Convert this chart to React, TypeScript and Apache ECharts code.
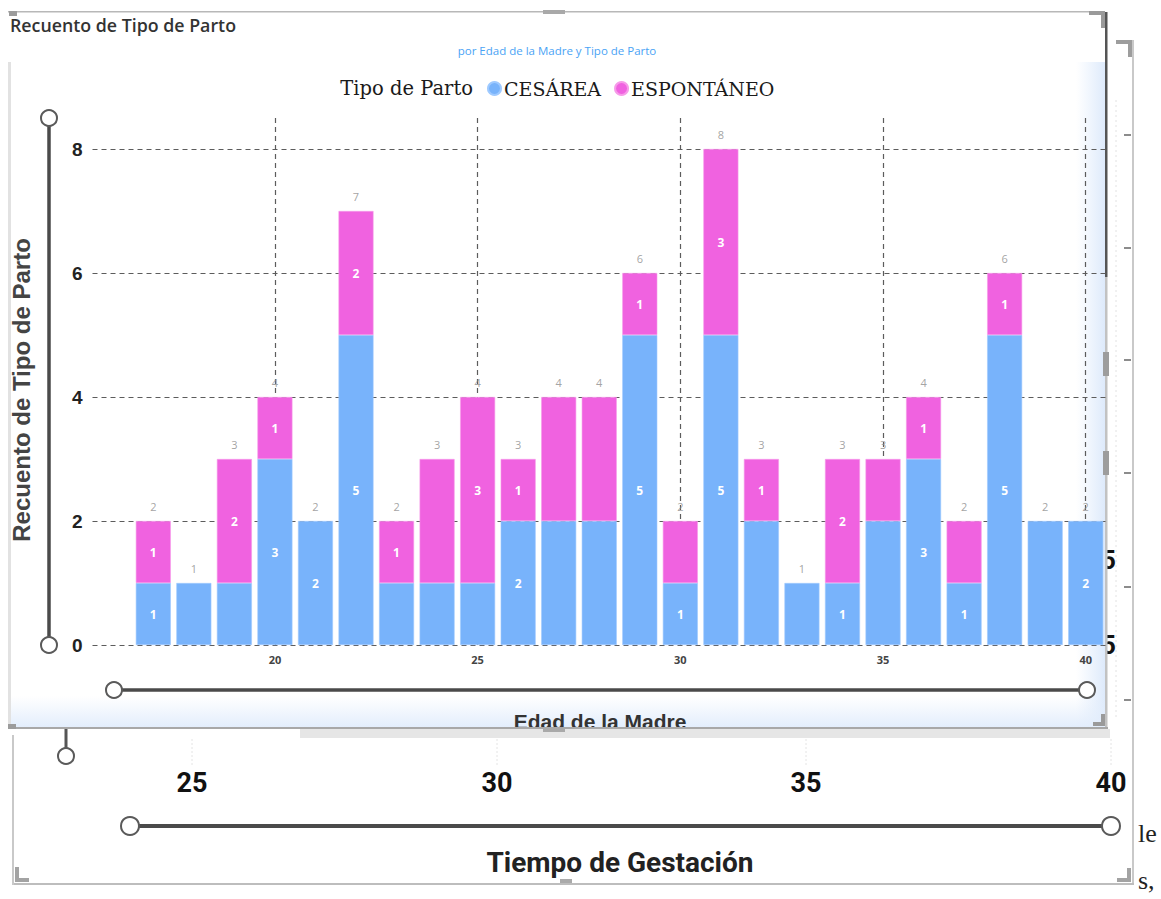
import React, { useEffect, useRef } from "react";
import * as echarts from "echarts";

// ---- data ----
const axisCategories = ["16", "17", "18", "19", "20", "21", "22", "23", "24", "25", "26", "27", "28", "29", "30", "31", "32", "33", "34", "35", "36", "37", "38", "39", "40"];
const ages = ["17", "18", "19", "20", "21", "22", "23", "24", "25", "26", "27", "28", "29", "30", "31", "32", "33", "34", "35", "36", "37", "38", "39", "40"];
const cesarea = [1, 1, 1, 3, 2, 5, 1, 1, 1, 2, 2, 2, 5, 1, 5, 2, 1, 1, 2, 3, 1, 5, 2, 2];
const espontaneo = [1, 0, 2, 1, 0, 2, 1, 2, 3, 1, 2, 2, 1, 1, 3, 1, 0, 2, 1, 1, 1, 1, 0, 0];
const seriesNames = ["CESÁREA", "ESPONTÁNEO"];
const xTickLabels = ["20", "25", "30", "35", "40"];
const yTickValues = [0, 2, 4, 6, 8];
// segments whose inner label is hidden in the original (by age)
const cesareaLabelHidden = ["18", "19", "23", "24", "25", "27", "28", "32", "33", "35", "39"];
const espontaneoLabelHidden = ["24", "27", "28", "30", "35", "37"];
// background visual (Tiempo de Gestación) tick labels
const gestacionTicks = ["25", "30", "35", "40"];

const BLUE = "#78b3fb";
const PINK = "#f062e0";

function buildOption() {
  const totals = ages.map((a, i) => cesarea[i] + espontaneo[i]);
  const innerLabel = {
    show: true,
    position: "inside",
    color: "#ffffff",
    fontFamily: "Open Sans",
    fontWeight: 700,
    fontSize: 12,
  };
  const cesData = ages.map((a, i) => ({
    value: [a, cesarea[i] > 0 ? cesarea[i] : "-"],
    label: { show: cesarea[i] > 0 && !cesareaLabelHidden.includes(a) },
  }));
  const espData = ages.map((a, i) => ({
    value: [a, espontaneo[i] > 0 ? espontaneo[i] : "-"],
    label: { show: espontaneo[i] > 0 && !espontaneoLabelHidden.includes(a) },
  }));

  const gestX = [192, 497, 806, 1111];

  const behind: any[] = [
    { type: "rect", shape: { x: 1132, y: 40, width: 2, height: 845 }, style: { fill: "#c9c9c9" } },
    { type: "polyline", shape: { points: [[1116, 42], [1130, 42], [1130, 57]] }, style: { stroke: "#9d9d9d", lineWidth: 4, fill: null } },
    { type: "rect", shape: { x: 14, y: 883, width: 1120, height: 2 }, style: { fill: "#bdbdbd" } },
    { type: "rect", shape: { x: 12, y: 733, width: 2, height: 152 }, style: { fill: "#c9c9c9" } },
    { type: "polyline", shape: { points: [[17, 867], [17, 880], [29, 880]] }, style: { stroke: "#a3a3a3", lineWidth: 4, fill: null } },
    { type: "polyline", shape: { points: [[1117, 880], [1129, 880], [1129, 868]] }, style: { stroke: "#a3a3a3", lineWidth: 4, fill: null } },
    { type: "rect", shape: { x: 560, y: 879, width: 12, height: 4 }, style: { fill: "#aaaaaa" } },
    { type: "line", shape: { x1: 1116, y1: 100, x2: 1116, y2: 720 }, style: { stroke: "#e2e2e2", lineWidth: 1, lineDash: [2, 3] } },
    ...[135, 248, 360, 473, 587, 700].map((y) => ({
      type: "line",
      shape: { x1: 1124, y1: y, x2: 1131, y2: y },
      style: { stroke: "#666", lineWidth: 1.5 },
    })),
    { type: "text", x: 1101, y: 560, style: { text: "5", font: "bold 26px Roboto", fill: "#111", textVerticalAlign: "middle" } },
    { type: "text", x: 1101, y: 645, style: { text: "5", font: "bold 26px Roboto", fill: "#111", textVerticalAlign: "middle" } },
    { type: "text", x: 1138, y: 833, style: { text: "le", font: "26px 'Liberation Serif'", fill: "#222", textVerticalAlign: "middle" } },
    { type: "text", x: 1138, y: 880, style: { text: "s,", font: "26px 'Liberation Serif'", fill: "#222", textVerticalAlign: "middle" } },
  ].map((e) => ({ ...e, z: 0 }));

  const panel: any[] = [
    { type: "rect", shape: { x: 8, y: 12, width: 1099, height: 716 }, style: { fill: "#ffffff" } },
    {
      type: "rect",
      shape: { x: 1076, y: 62, width: 30, height: 666 },
      style: {
        fill: new echarts.graphic.LinearGradient(0, 0, 1, 0, [
          { offset: 0, color: "rgba(224,236,252,0)" },
          { offset: 1, color: "#dce9fb" },
        ]),
      },
    },
    {
      type: "rect",
      shape: { x: 10, y: 696, width: 1096, height: 32 },
      style: {
        fill: new echarts.graphic.LinearGradient(0, 0, 0, 1, [
          { offset: 0, color: "rgba(228,238,252,0)" },
          { offset: 1, color: "#e2edfc" },
        ]),
      },
    },
    { type: "rect", shape: { x: 8, y: 62, width: 3, height: 666 }, style: { fill: "#e2e2e2" } },
    { type: "rect", shape: { x: 8, y: 11, width: 1097, height: 1.5 }, style: { fill: "#b8b8b8" } },
    { type: "rect", shape: { x: 9, y: 11, width: 8, height: 5 }, style: { fill: "#9c9c9c" } },
    { type: "rect", shape: { x: 543, y: 10, width: 22, height: 4 }, style: { fill: "#a9a9a9" } },
    { type: "polyline", shape: { points: [[1089, 13], [1103, 13], [1103, 28]] }, style: { stroke: "#9a9a9a", lineWidth: 4, fill: null } },
    { type: "rect", shape: { x: 1105, y: 12, width: 2.5, height: 265 }, style: { fill: "#555555" } },
    { type: "rect", shape: { x: 1105, y: 277, width: 2.5, height: 451 }, style: { fill: "#c2c2c2" } },
    { type: "rect", shape: { x: 1103, y: 352, width: 6, height: 24 }, style: { fill: "#9d9d9d" } },
    { type: "rect", shape: { x: 1103, y: 451, width: 6, height: 24 }, style: { fill: "#9d9d9d" } },
  ].map((e) => ({ ...e, z: 0 }));

  const slider = (pts: number[][], r: number, w: number) => [
    { type: "line", shape: { x1: pts[0][0], y1: pts[0][1], x2: pts[1][0], y2: pts[1][1] }, style: { stroke: "#4a4a4a", lineWidth: w } },
    { type: "circle", shape: { cx: pts[0][0], cy: pts[0][1], r }, style: { fill: "#fff", stroke: "#5a5a5a", lineWidth: 2 } },
    { type: "circle", shape: { cx: pts[1][0], cy: pts[1][1], r }, style: { fill: "#fff", stroke: "#5a5a5a", lineWidth: 2 } },
  ];

  const front: any[] = [
    ...slider([[49, 118], [49, 645]], 8, 3.5),
    ...slider([[114, 690], [1087, 690]], 8, 3.5),
    { type: "text", x: 10, y: 25, style: { text: "Recuento de Tipo de Parto", font: "600 17.8px 'Open Sans'", fill: "#333", textVerticalAlign: "middle" } },
    { type: "text", x: 557, y: 50, style: { text: "por Edad de la Madre y Tipo de Parto", font: "11.5px 'Open Sans'", fill: "#4aa3f5", textAlign: "center", textVerticalAlign: "middle" } },
    { type: "text", x: 473, y: 88, style: { text: "Tipo de Parto", font: "19.5px 'DejaVu Serif'", fill: "#1a1a1a", textAlign: "right", textVerticalAlign: "middle" } },
    {
      type: "text",
      x: 21,
      y: 390,
      rotation: Math.PI / 2,
      style: { text: "Recuento de Tipo de Parto", font: "bold 24px 'Liberation Sans'", fill: "#444", textAlign: "center", textVerticalAlign: "middle" },
    },
  ].map((e) => ({ ...e, z: 5 }));

  const xTitle = [
    { type: "text", x: 600, y: 721, style: { text: "Edad de la Madre", font: "bold 21px 'Liberation Sans'", fill: "#333", textAlign: "center", textVerticalAlign: "middle" }, z: 8 },
  ];

  const lower: any[] = [
    { type: "rect", shape: { x: 8, y: 727, width: 1100, height: 2 }, style: { fill: "#a8a8a8" } },
    { type: "rect", shape: { x: 8, y: 729, width: 292, height: 6 }, style: { fill: "#ffffff" } },
    { type: "rect", shape: { x: 300, y: 729, width: 810, height: 9 }, style: { fill: "#e6e6e6" } },
    { type: "polyline", shape: { points: [[1093, 724], [1103, 724], [1103, 714]] }, style: { stroke: "#9a9a9a", lineWidth: 4, fill: null } },
    { type: "rect", shape: { x: 8, y: 724, width: 8, height: 5 }, style: { fill: "#9c9c9c" } },
    { type: "rect", shape: { x: 543, y: 727, width: 22, height: 5 }, style: { fill: "#a9a9a9" } },
    ...gestX.map((x) => ({ type: "line", shape: { x1: x, y1: 739, x2: x, y2: 765 }, style: { stroke: "#e4e4e4", lineWidth: 1, lineDash: [2, 2] } })),
    { type: "line", shape: { x1: 66, y1: 729, x2: 66, y2: 748 }, style: { stroke: "#555", lineWidth: 3 } },
    { type: "circle", shape: { cx: 66, cy: 756, r: 8 }, style: { fill: "#fff", stroke: "#5a5a5a", lineWidth: 2 } },
    ...gestacionTicks.map((t, i) => ({
      type: "text",
      x: gestX[i],
      y: 783,
      style: { text: t, font: "bold 27px Roboto", fill: "#111", textAlign: "center", textVerticalAlign: "middle" },
    })),
    ...slider([[130, 826], [1111, 826]], 9, 4),
    { type: "text", x: 620, y: 862, style: { text: "Tiempo de Gestación", font: "bold 28px Roboto", fill: "#222", textAlign: "center", textVerticalAlign: "middle" } },
  ].map((e) => ({ ...e, z: 9 }));

  return {
    animation: false,
    backgroundColor: "#ffffff",
    textStyle: { fontFamily: "Open Sans" },
    grid: { left: 92.5, right: 55, top: 118, bottom: 254, containLabel: false },
    legend: {
      data: seriesNames,
      left: 482,
      top: 74,
      icon: "circle",
      itemWidth: 13,
      itemHeight: 13,
      itemGap: 13,
      selectedMode: false,
      textStyle: { fontFamily: "DejaVu Serif", fontSize: 19, color: "#1a1a1a", padding: [0, 0, 0, -2] },
    },
    xAxis: {
      type: "category",
      data: axisCategories,
      boundaryGap: true,
      axisLine: { show: false },
      axisTick: { show: false },
      splitLine: { show: false },
      axisLabel: {
        interval: (idx: number, val: string) => xTickLabels.includes(val),
        fontSize: 11,
        fontWeight: 700,
        color: "#444",
        margin: 9,
        fontFamily: "Open Sans",
      },
    },
    yAxis: {
      type: "value",
      min: 0,
      max: 8.5,
      interval: 2,
      axisLine: { show: false },
      axisTick: { show: false },
      splitLine: { show: false },
      axisLabel: {
        showMaxLabel: false,
        fontSize: 19,
        fontWeight: 700,
        color: "#222",
        margin: 10,
        fontFamily: "Liberation Sans",
        formatter: (v: number) => (yTickValues.includes(v) ? String(v) : ""),
      },
    },
    series: [
      {
        name: seriesNames[0],
        type: "bar",
        stack: "parto",
        barWidth: 35,
        silent: true,
        itemStyle: { color: BLUE, borderColor: "#9fcaff", borderWidth: 0.6 },
        label: innerLabel,
        data: cesData,
        z: 3,
      },
      {
        name: seriesNames[1],
        type: "bar",
        stack: "parto",
        barWidth: 35,
        silent: true,
        itemStyle: { color: PINK, borderColor: "#f79be9", borderWidth: 0.6 },
        label: innerLabel,
        data: espData,
        z: 3,
      },
      {
        name: "total",
        type: "scatter",
        silent: true,
        symbolSize: 1,
        itemStyle: { color: "rgba(0,0,0,0)" },
        z: 1,
        label: {
          show: true,
          position: "top",
          distance: 9,
          color: "#8c8c8c",
          fontSize: 11,
          fontFamily: "Open Sans",
          formatter: (p: any) => String(p.value[1]),
        },
        data: ages.map((a, i) => [a, totals[i]]),
        markLine: {
          silent: true,
          z: 1,
          symbol: ["none", "none"],
          label: { show: false },
          lineStyle: { type: [5, 4], color: "#5c5c5c", width: 1.2 },
          data: [
            ...xTickLabels.map((v) => ({ xAxis: v })),
            ...yTickValues.map((v) => ({ yAxis: v })),
          ],
        },
      },
    ],
    graphic: { elements: [...behind, ...panel, ...front, ...xTitle, ...lower] },
  };
}

export default function App() {
  const ref = useRef<HTMLDivElement>(null);
  useEffect(() => {
    if (!ref.current) return;
    const chart = echarts.init(ref.current, undefined, { renderer: "svg" });
    chart.setOption(buildOption() as any);
    return () => chart.dispose();
  }, []);
  return (
    <div
      ref={ref}
      style={{ position: "absolute", left: 0, top: 0, width: 1161, height: 899 }}
    />
  );
}
